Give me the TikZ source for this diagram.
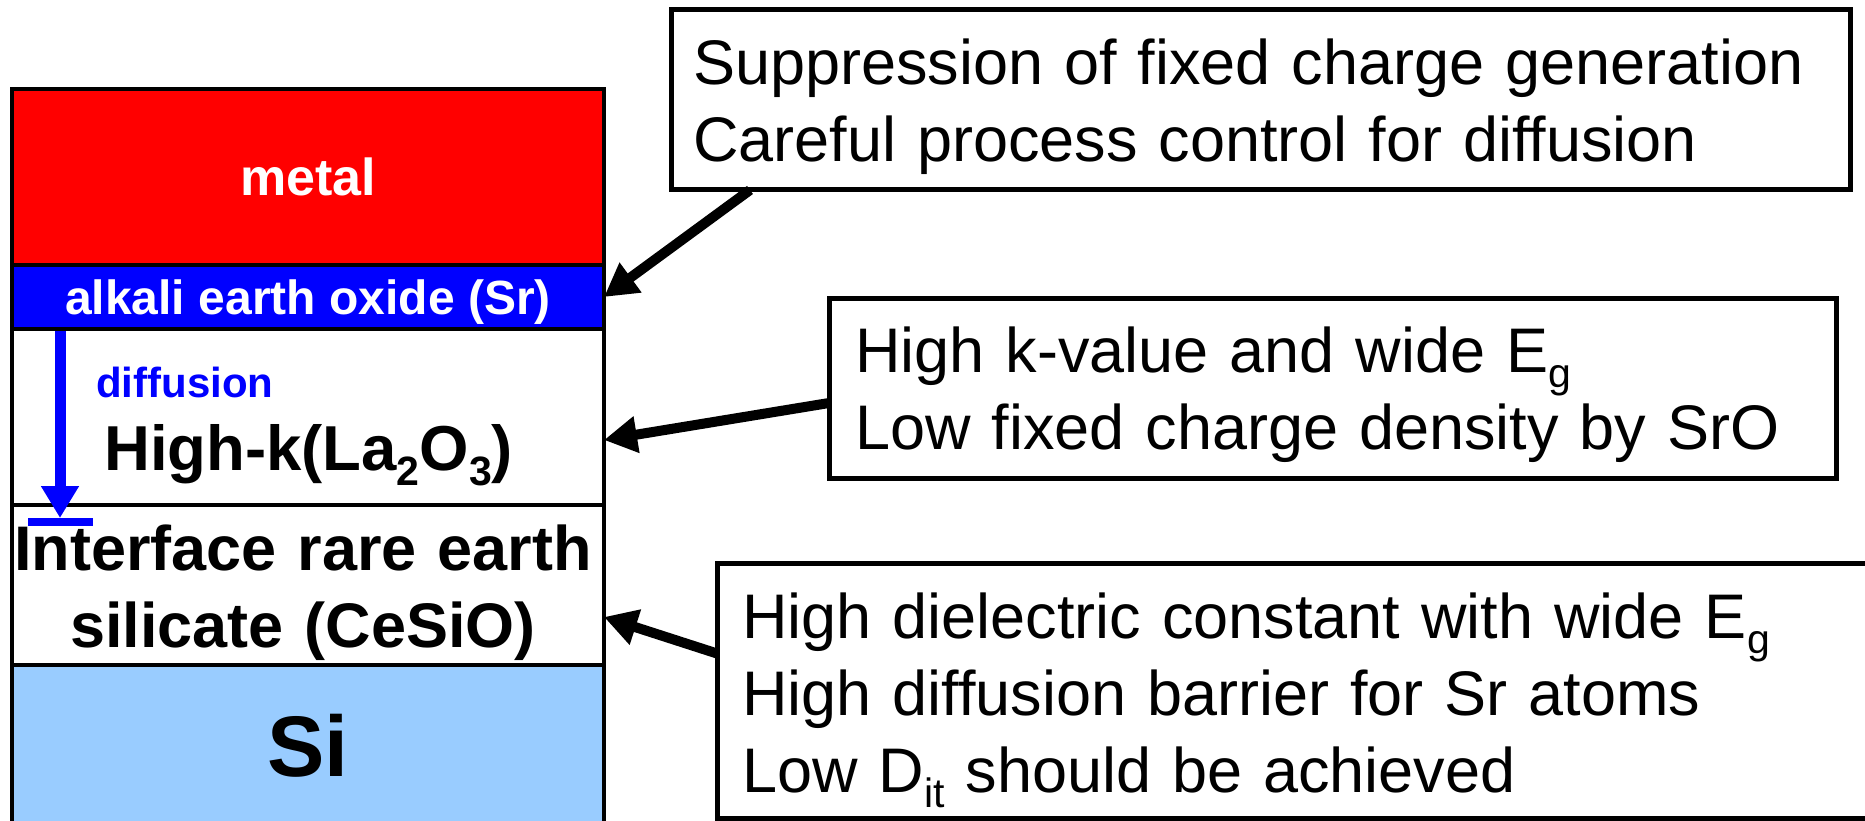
\documentclass[tikz,border=0pt]{standalone}
\usepackage{fontspec}
\setmainfont{Liberation Sans}
\usetikzlibrary{arrows.meta,positioning}
\definecolor{metalred}{RGB}{255,0,0}
\definecolor{oxblue}{RGB}{0,0,255}
\definecolor{siblue}{RGB}{153,204,255}
\newcommand\sbs[1]{\raisebox{-15pt}{\fontsize{41}{41}\selectfont #1}}
\tikzset{
  layer/.style={draw, line width=3.5pt, minimum width=592pt, inner sep=0pt, outer sep=0pt, anchor=north west},
  infobox/.style={draw, fill=white, line width=5pt, inner sep=0pt, outer sep=0pt, anchor=north west},
  boxtext/.style={anchor=base west, inner sep=0pt, text width=#1, align=left, font=\fontsize{63}{77}\selectfont},
  boxtext/.default=1150pt,
  pointer/.style={line width=10pt, -{Triangle[length=33pt,width=35pt]}},
  diffarrow/.style={draw=oxblue, line width=11pt, -{Triangle[length=32pt,width=36pt]}},
  diffbar/.style={draw=oxblue, line width=8pt}
}
\begin{document}
\begin{tikzpicture}[x=1pt,y=-1pt]
  \path[use as bounding box] (0,0) rectangle (1865,821);
  \clip (0,0) rectangle (1865,821);
  % gate stack
  \node[layer, fill=metalred, minimum height=176pt, text=white, font=\bfseries\fontsize{52}{60}\selectfont] (metal) at (12,89) {metal};
  \node[layer, fill=oxblue, minimum height=64pt, text=white, text depth=0pt, font=\bfseries\fontsize{48}{56}\selectfont] (alkali) at (12,265) {alkali earth oxide (Sr)};
  \node[layer, fill=white, minimum height=176pt] (highk) at (12,329) {};
  \node[layer, fill=white, minimum height=160pt] (iface) at (12,505) {};
  \node[layer, fill=siblue, minimum height=162pt, font=\bfseries\fontsize{86}{90}\selectfont] (si) at (12,665) {Si};
  \node[anchor=base west, inner sep=0pt, text=oxblue, font=\bfseries\fontsize{42}{50}\selectfont] (difflbl) at (96,397) {diffusion};
  \node[anchor=base west, inner sep=0pt, font=\bfseries\fontsize{63.5}{77}\selectfont] (hklbl) at (104,470) {High-k(La\sbs{2}O\sbs{3})};
  \node[anchor=base, inner sep=0pt, text width=600pt, align=center, font=\bfseries\fontsize{63}{77}\selectfont] (iflbl) at (303,570) {Interface rare earth\\silicate (CeSiO)};
  % Sr diffusion, stopped at the silicate
  \coordinate (dtop) at (60,331);
  \coordinate (dbot) at (60,518);
  \draw[diffarrow] (dtop) -- (dbot);
  \draw[diffbar] ([xshift=-32pt,yshift=-4pt]dbot) -- ([xshift=33pt,yshift=-4pt]dbot);
  % remarks
  \node[infobox, minimum width=1179pt, minimum height=180pt] (suppbox) at (671,10) {};
  \node[boxtext] (supptxt) at ([xshift=22pt,yshift=-75pt]suppbox.north west) {Suppression of fixed charge generation\\Careful process control for diffusion};
  \node[infobox, minimum width=1007pt, minimum height=180pt] (kbox) at (829,298) {};
  \node[boxtext] (ktxt) at ([xshift=26pt,yshift=-74pt]kbox.north west) {High k-value and wide E\sbs{g}\\Low fixed charge density by SrO};
  \node[infobox, minimum width=1200pt, minimum height=255pt] (silbox) at (717,563) {};
  \node[boxtext] (siltxt) at ([xshift=25pt,yshift=-75pt]silbox.north west) {High dielectric constant with wide E\sbs{g}\\High diffusion barrier for Sr atoms\\Low D\sbs{it} should be achieved};
  \draw[pointer] ([xshift=79pt]suppbox.south west) -- (alkali.east);
  \draw[pointer] ([yshift=-15pt]kbox.west) -- ([yshift=-23pt]highk.east);
  \draw[pointer] ([yshift=37pt]silbox.west) -- ([yshift=-32pt]iface.east);
\end{tikzpicture}
\end{document}
